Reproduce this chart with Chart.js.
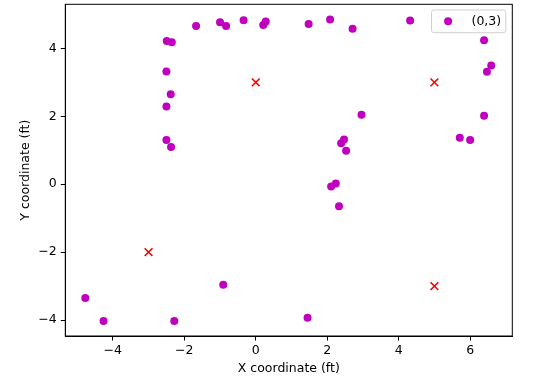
<!DOCTYPE html>
<html>
<head>
<meta charset="utf-8">
<script src="https://cdn.jsdelivr.net/npm/chart.js@4/dist/chart.umd.min.js"></script>
<style>
html,body{margin:0;padding:0;background:#fff;}
#wrap{width:540px;height:382px;position:relative;}
</style>
</head>
<body>
<div id="wrap"><canvas id="c" width="540" height="382"></canvas></div>
<script>
// ---- data ----
const purpleLabel = "(0,3)";
const purpleX = [-2.49,-2.35,-1.67,-1.00,-0.83,-0.34,0.21,0.28,-2.50,-2.38,-2.50,-2.50,-2.37,
  1.48,2.08,2.71,4.32,6.39,6.59,6.47,6.39,2.96,5.71,6.00,2.47,2.39,2.53,2.24,2.11,2.33,1.45,
  -4.77,-4.26,-2.28,-0.91];
const purpleY = [4.22,4.18,4.66,4.77,4.66,4.83,4.69,4.79,3.32,2.65,2.29,1.30,1.10,
  4.72,4.85,4.58,4.82,4.24,3.50,3.31,2.02,2.05,1.37,1.30,1.32,1.21,0.99,0.02,-0.07,-0.65,-3.93,
  -3.35,-4.03,-4.03,-2.96];
const targetX = [0,5,-3,5];
const targetY = [3,3,-2,-3];
const xTicks = [-4,-2,0,2,4,6];
const yTicks = [-4,-2,0,2,4];
const xRange = [-5.33,7.18];
const yRange = [-4.47,5.30];
const xTitle = "X coordinate (ft)";
const yTitle = "Y coordinate (ft)";

const FONT = "'DejaVu Sans', sans-serif";
Chart.defaults.color = '#000';
Chart.defaults.font.family = FONT;
Chart.defaults.font.size = 12.5;

const fmt = v => String(v).replace('-', '\u2212');

const framePlugin = {
  id: 'frame',
  afterDatasetsDraw(chart) {
    const {ctx, chartArea: a} = chart;
    ctx.save();
    ctx.strokeStyle = '#000';
    ctx.lineWidth = 1;
    ctx.strokeRect(a.left, a.top, a.right - a.left, a.bottom - a.top);
    ctx.restore();
  }
};

const legendPlugin = {
  id: 'mplLegend',
  afterDraw(chart) {
    const {ctx, chartArea: a} = chart;
    const w = 74.3, h = 22.7;
    const x = a.right - 6.5 - w, y = a.top + 5.7;
    ctx.save();
    ctx.beginPath();
    ctx.roundRect(x, y, w, h, 2.5);
    ctx.fillStyle = 'rgba(255,255,255,0.8)';
    ctx.fill();
    ctx.strokeStyle = '#d0d0d0';
    ctx.lineWidth = 1;
    ctx.stroke();
    const ds = chart.data.datasets[0];
    ctx.beginPath();
    ctx.arc(x + 16.6, y + h / 2, 4, 0, Math.PI * 2);
    ctx.fillStyle = ds.backgroundColor;
    ctx.fill();
    ctx.fillStyle = '#000';
    ctx.font = '12.5px ' + FONT;
    ctx.textBaseline = 'middle';
    ctx.textAlign = 'left';
    ctx.fillText(ds.label, x + 40, y + h / 2 + 0.5);
    ctx.restore();
  }
};

const toPts = (xs, ys) => xs.map((x, i) => ({x, y: ys[i]}));
const zeroPad = () => ({left: 0, top: 0, right: 0, bottom: 0});
const noPad = s => {
  s.paddingTop = 0; s.paddingBottom = 0; s.paddingLeft = 0; s.paddingRight = 0;
  s.getPadding = zeroPad;
};

new Chart(document.getElementById('c'), {
  type: 'scatter',
  data: {
    datasets: [
      {
        label: purpleLabel,
        data: toPts(purpleX, purpleY),
        backgroundColor: '#bf00bf',
        borderColor: '#bf00bf',
        pointRadius: 4,
        pointBorderWidth: 0,
        pointHoverRadius: 4
      },
      {
        label: 'targets',
        data: toPts(targetX, targetY),
        pointStyle: 'crossRot',
        backgroundColor: '#ff0000',
        borderColor: '#ff0000',
        pointRadius: 5.5,
        pointBorderWidth: 1.6,
        pointHoverRadius: 5.5
      }
    ]
  },
  options: {
    responsive: false,
    animation: false,
    devicePixelRatio: 1,
    layout: {autoPadding: false, padding: {left: 0, right: 27.7, top: 4.3, bottom: 0}},
    plugins: {legend: {display: false}, tooltip: {enabled: false}},
    scales: {
      x: {
        type: 'linear',
        min: xRange[0], max: xRange[1],
        afterBuildTicks: s => { s.ticks = xTicks.map(v => ({value: v})); },
        afterFit: s => { s.height = 46; noPad(s); },
        grid: {drawOnChartArea: false, drawTicks: true, tickLength: 4.5, tickColor: '#000', tickWidth: 1},
        border: {display: true, color: '#000', width: 1},
        ticks: {padding: 3, callback: v => fmt(v), maxRotation: 0, autoSkip: false, font: {size: 12.5}},
        title: {display: true, text: xTitle, font: {size: 12.5}, padding: {top: 4, bottom: 5.5}}
      },
      y: {
        type: 'linear',
        min: yRange[0], max: yRange[1],
        afterBuildTicks: s => { s.ticks = yTicks.map(v => ({value: v})); },
        afterFit: s => { s.width = 65.3; noPad(s); },
        grid: {drawOnChartArea: false, drawTicks: true, tickLength: 4.5, tickColor: '#000', tickWidth: 1},
        border: {display: true, color: '#000', width: 1},
        ticks: {padding: 4, callback: v => fmt(v), autoSkip: false, font: {size: 12.5}},
        title: {display: true, text: yTitle, font: {size: 12.5}, padding: {top: 18.5, bottom: 4}}
      }
    }
  },
  plugins: [framePlugin, legendPlugin]
});
</script>
</body>
</html>
